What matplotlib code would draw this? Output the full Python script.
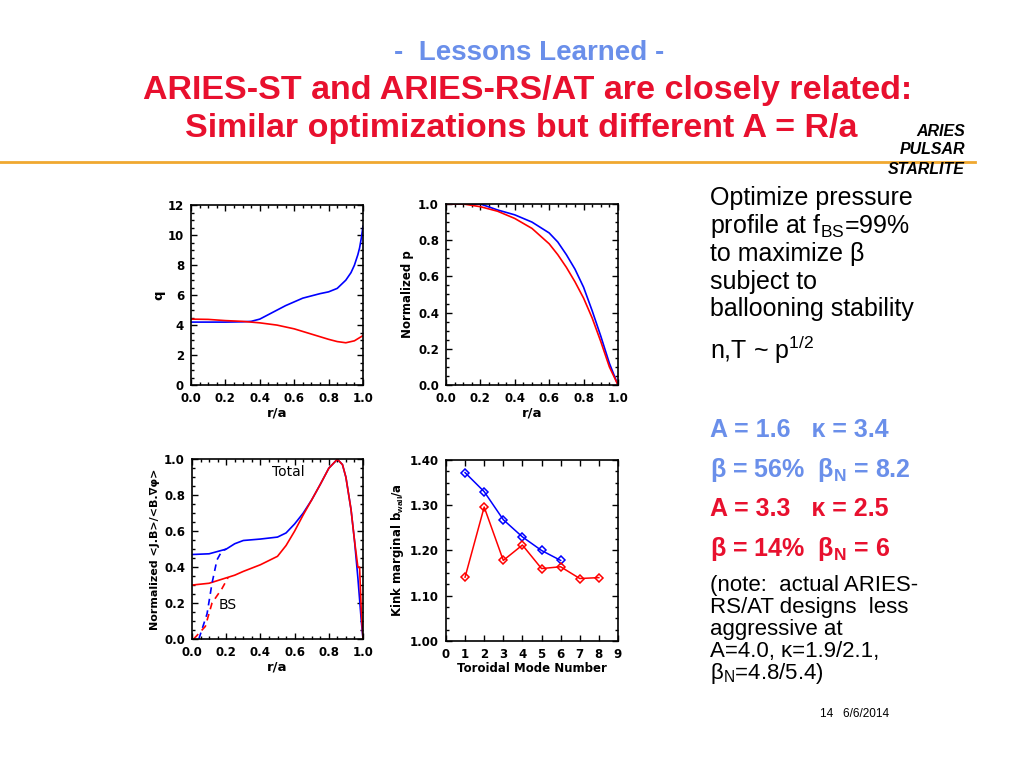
import matplotlib
matplotlib.use("Agg")
import matplotlib.pyplot as plt
from matplotlib.ticker import AutoMinorLocator, FormatStrFormatter, MultipleLocator

plt.rcParams['mathtext.fontset'] = 'custom'
plt.rcParams['mathtext.rm'] = 'Liberation Sans'
plt.rcParams['mathtext.it'] = 'Liberation Sans:italic'
plt.rcParams['mathtext.bf'] = 'Liberation Sans:bold'

# ---------------- data ----------------
# q profile
q_r_st = [0.0, 0.1, 0.2, 0.3, 0.35, 0.4, 0.45, 0.5, 0.55, 0.6, 0.65, 0.7, 0.75, 0.8, 0.85, 0.9, 0.93, 0.95, 0.97, 0.98, 0.99, 1.0]
q_st = [4.2, 4.2, 4.2, 4.22, 4.25, 4.4, 4.7, 5.0, 5.3, 5.55, 5.8, 5.95, 6.1, 6.22, 6.45, 7.0, 7.5, 8.0, 8.7, 9.15, 9.8, 10.6]
q_r_rs = [0.0, 0.1, 0.2, 0.3, 0.35, 0.4, 0.5, 0.6, 0.7, 0.8, 0.85, 0.9, 0.95, 1.0]
q_rs = [4.4, 4.38, 4.3, 4.25, 4.2, 4.15, 4.0, 3.75, 3.4, 3.05, 2.9, 2.82, 2.95, 3.3]

# pressure profile
p_r = [0.0, 0.1, 0.2, 0.3, 0.4, 0.5, 0.6, 0.65, 0.7, 0.75, 0.8, 0.85, 0.9, 0.95, 1.0]
p_st = [1.0, 1.0, 1.0, 0.967, 0.94, 0.90, 0.84, 0.79, 0.72, 0.64, 0.54, 0.41, 0.27, 0.12, 0.0]
p_rs = [1.0, 1.0, 0.985, 0.96, 0.92, 0.865, 0.78, 0.72, 0.65, 0.57, 0.48, 0.37, 0.24, 0.10, 0.0]

# current profiles (total)
j_r = [0.0, 0.1, 0.2, 0.25, 0.3, 0.4, 0.5, 0.55, 0.6, 0.65, 0.7, 0.75, 0.8, 0.85, 0.88, 0.9, 0.93, 0.95, 0.97, 0.98, 0.99, 1.0]
j_st = [0.47, 0.474, 0.50, 0.53, 0.548, 0.556, 0.567, 0.59, 0.64, 0.70, 0.774, 0.86, 0.95, 1.0, 0.97, 0.90, 0.72, 0.55, 0.34, 0.22, 0.10, 0.0]
j_rs = [0.30, 0.31, 0.34, 0.355, 0.376, 0.413, 0.46, 0.52, 0.60, 0.69, 0.774, 0.86, 0.95, 1.0, 0.97, 0.90, 0.72, 0.55, 0.40, 0.40, 0.15, 0.0]
# bootstrap near-axis parts
bs_r_st = [0.04, 0.088, 0.117, 0.146, 0.175, 0.2]
bs_st = [0.0, 0.14, 0.31, 0.44, 0.49, 0.50]
bs_r_rs = [0.01, 0.078, 0.117, 0.175, 0.21]
bs_rs = [0.0, 0.07, 0.20, 0.28, 0.34]

# kink stability
n_st = [1, 2, 3, 4, 5, 6]
kink_st = [1.372, 1.330, 1.268, 1.230, 1.200, 1.178]
n_rs = [1, 2, 3, 4, 5, 6, 7, 8]
kink_rs = [1.141, 1.296, 1.178, 1.212, 1.160, 1.164, 1.138, 1.140]

BLUE = '#0000FF'
RED = '#FF0000'

fig = plt.figure(figsize=(10.24, 7.68), dpi=100)
fig.patch.set_facecolor('white')

LAB = dict(fontfamily='DejaVu Sans', fontweight='bold')


def style(ax):
    ax.tick_params(direction='in', which='both', top=True, right=True, length=4, width=1, pad=5)
    ax.tick_params(which='minor', length=2)
    for lab in ax.get_xticklabels() + ax.get_yticklabels():
        lab.set_fontfamily('DejaVu Sans')
        lab.set_fontweight('bold')
        lab.set_fontsize(8.5)
    for s in ax.spines.values():
        s.set_linewidth(1.2)


# panel 1: q
ax1 = fig.add_axes([0.1865, 0.4987, 0.168, 0.234])
ax1.plot(q_r_st, q_st, color=BLUE, lw=1.2)
ax1.plot(q_r_rs, q_rs, color=RED, lw=1.2)
ax1.set_xlim(0, 1)
ax1.set_ylim(0, 12)
ax1.xaxis.set_major_locator(MultipleLocator(0.2))
ax1.yaxis.set_major_locator(MultipleLocator(2))
ax1.xaxis.set_major_formatter(FormatStrFormatter('%.1f'))
ax1.xaxis.set_minor_locator(AutoMinorLocator(4))
ax1.yaxis.set_minor_locator(AutoMinorLocator(4))
ax1.set_xlabel('r/a', fontsize=9.5, labelpad=1, **LAB)
ax1.set_ylabel('q', fontsize=9.5, labelpad=2, **LAB)
style(ax1)

# panel 2: pressure
ax2 = fig.add_axes([0.4355, 0.4987, 0.168, 0.2357])
ax2.plot(p_r, p_st, color=BLUE, lw=1.2)
ax2.plot(p_r, p_rs, color=RED, lw=1.2)
ax2.set_xlim(0, 1)
ax2.set_ylim(0, 1)
ax2.xaxis.set_major_locator(MultipleLocator(0.2))
ax2.yaxis.set_major_locator(MultipleLocator(0.2))
ax2.xaxis.set_major_formatter(FormatStrFormatter('%.1f'))
ax2.yaxis.set_major_formatter(FormatStrFormatter('%.1f'))
ax2.xaxis.set_minor_locator(AutoMinorLocator(4))
ax2.yaxis.set_minor_locator(AutoMinorLocator(4))
ax2.set_xlabel('r/a', fontsize=9.5, labelpad=1, **LAB)
ax2.set_ylabel('Normalized p', fontsize=8.5, labelpad=3, **LAB)
style(ax2)

# panel 3: current
ax3 = fig.add_axes([0.1875, 0.168, 0.167, 0.234])
ax3.plot(j_r, j_st, color=BLUE, lw=1.2)
ax3.plot(j_r, j_rs, color=RED, lw=1.2)
ax3.plot(bs_r_st, bs_st, color=BLUE, lw=1.2, ls=(0, (4, 3)))
ax3.plot(bs_r_rs, bs_rs, color=RED, lw=1.2, ls=(0, (4, 3)))
ax3.set_xlim(0, 1)
ax3.set_ylim(0, 1)
ax3.xaxis.set_major_locator(MultipleLocator(0.2))
ax3.yaxis.set_major_locator(MultipleLocator(0.2))
ax3.xaxis.set_major_formatter(FormatStrFormatter('%.1f'))
ax3.yaxis.set_major_formatter(FormatStrFormatter('%.1f'))
ax3.xaxis.set_minor_locator(AutoMinorLocator(4))
ax3.yaxis.set_minor_locator(AutoMinorLocator(4))
ax3.text(0.47, 0.93, 'Total', fontfamily='DejaVu Sans', fontsize=10, va='center')
ax3.text(0.155, 0.19, 'BS', fontfamily='DejaVu Sans', fontsize=10, va='center')
ax3.set_xlabel('r/a', fontsize=9.5, labelpad=1, **LAB)
ax3.set_ylabel('Normalized <J.B>/<B.\u2207\u03c6>', fontsize=8, labelpad=3, **LAB)
style(ax3)

# panel 4: kink
ax4 = fig.add_axes([0.4355, 0.1654, 0.168, 0.2357])
ax4.plot(n_st, kink_st, color=BLUE, lw=1.1, marker='D', ms=4, mfc='none', mew=1.1)
ax4.plot(n_rs, kink_rs, color=RED, lw=1.1, marker='D', ms=4, mfc='none', mew=1.1)
ax4.set_xlim(0, 9)
ax4.set_ylim(1.0, 1.4)
ax4.xaxis.set_major_locator(MultipleLocator(1))
ax4.yaxis.set_major_locator(MultipleLocator(0.1))
ax4.yaxis.set_major_formatter(FormatStrFormatter('%.2f'))
ax4.yaxis.set_minor_locator(AutoMinorLocator(4))
ax4.set_xlabel('Toroidal Mode Number', fontsize=8.5, labelpad=1, **LAB)
ax4.set_ylabel(r'Kink marginal b$_\mathbf{wall}$/a', fontsize=8.5, labelpad=3, **LAB)
style(ax4)

# ---------------- slide text ----------------
LBLUE = '#6A8FEA'
TRED = '#E8102E'
fig.text(0.517, 1 - 53 / 768, '-  Lessons Learned -', color=LBLUE, fontfamily='Liberation Sans',
         fontweight='bold', fontsize=20, ha='center', va='center')
fig.text(0.515, 1 - 91 / 768, 'ARIES-ST and ARIES-RS/AT are closely related:', color=TRED,
         fontfamily='Liberation Sans', fontweight='bold', fontsize=24.5, ha='center', va='center')
fig.text(0.509, 1 - 128 / 768, 'Similar optimizations but different A = R/a', color=TRED,
         fontfamily='Liberation Sans', fontweight='bold', fontsize=24.5, ha='center', va='center')
for yy, t in zip([131, 150, 169], ['ARIES', 'PULSAR', 'STARLITE']):
    fig.text(965 / 1024, 1 - yy / 768, t, color='black', fontfamily='Liberation Sans',
             fontweight='bold', fontstyle='italic', fontsize=11.5, ha='right', va='center')
fig.add_artist(plt.Line2D([0, 975 / 1024], [1 - 162 / 768, 1 - 162 / 768], color='#F0A830', lw=2,
                          transform=fig.transFigure))

x0 = 710 / 1024
black_lines = [(198, 'Optimize pressure'), (226, r'profile at f$_\mathrm{BS}$=99%'),
               (254, 'to maximize \u03b2'), (282, 'subject to'), (309, 'ballooning stability'),
               (350, r'n,T ~ p$^{1/2}$')]
for yy, t in black_lines:
    fig.text(x0, 1 - yy / 768, t, color='black', fontfamily='Liberation Sans', fontsize=18, ha='left', va='center')

col_lines = [(430, 'A = 1.6   \u03ba = 3.4', LBLUE), (470, '\u03b2 = 56%  \u03b2$_\\mathbf{N}$ = 8.2', LBLUE),
             (509, 'A = 3.3   \u03ba = 2.5', TRED), (549, '\u03b2 = 14%  \u03b2$_\\mathbf{N}$ = 6', TRED)]
for yy, t, c in col_lines:
    fig.text(x0, 1 - yy / 768, t, color=c, fontfamily='Liberation Sans', fontweight='bold',
             fontsize=18, ha='left', va='center')

note_lines = [(585, '(note:  actual ARIES-'), (607, 'RS/AT designs  less'), (629, 'aggressive at'),
              (651, 'A=4.0, \u03ba=1.9/2.1,'), (673, '\u03b2$_\\mathrm{N}$=4.8/5.4)')]
for yy, t in note_lines:
    fig.text(x0, 1 - yy / 768, t, color='black', fontfamily='Liberation Sans',
             fontsize=16, ha='left', va='center')

fig.text(820 / 1024, 1 - 714 / 768, '14   6/6/2014', color='black', fontfamily='Liberation Sans',
         fontsize=8.5, ha='left', va='center')

fig.savefig('out.png', dpi=100)
